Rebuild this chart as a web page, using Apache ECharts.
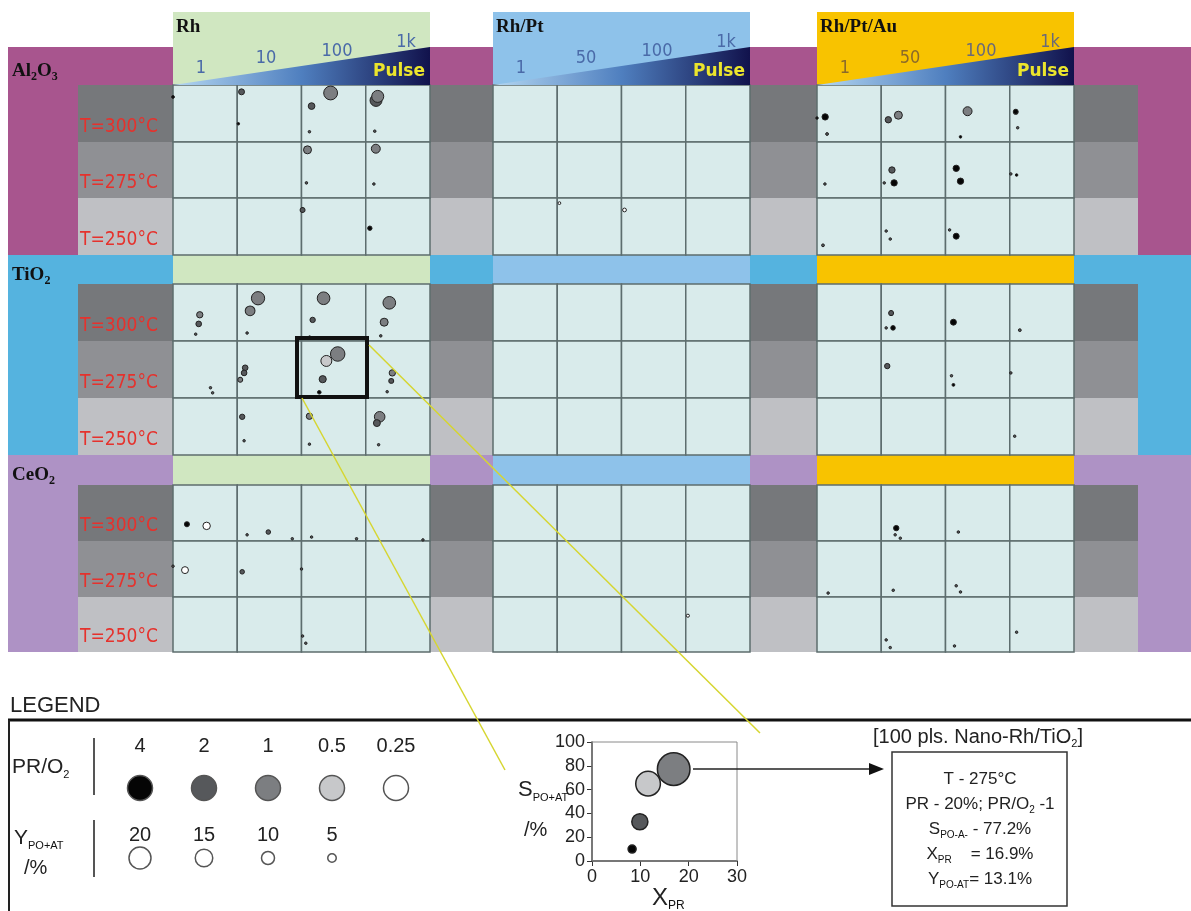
<!DOCTYPE html>
<html>
<head>
<meta charset="utf-8">
<title>Nano-Rh catalyst screening map</title>
<script src="https://cdn.jsdelivr.net/npm/echarts@6/dist/echarts.min.js"></script>
<style>
  html, body { margin: 0; padding: 0; background: #fff; }
  #chart { width: 1191px; height: 911px; }
</style>
</head>
<body>
<div id="chart"></div>
<script>
// row / column labels
const supports = ['Al{s|2}O{s|3}', 'TiO{s|2}', 'CeO{s|2}'];
const temperatures = ['T=300°C', 'T=275°C', 'T=250°C'];
const catalysts = ['Rh', 'Rh/Pt', 'Rh/Pt/Au'];
const pulseTicks = [['1', '10', '100', '1k'], ['1', '50', '100', '1k'], ['1', '50', '100', '1k']];

// bubbles per support: [temp row, catalyst, pulse col, X_PR, S_PO+AT, Y_PO+AT, PR/O2]
const al2o3Points = [
    [0, 0, 0, 0, 79, 0.5, 4],
    [0, 0, 1, 2, 88, 2.2, 2], [0, 0, 1, 0.5, 32, 0.4, 4],
    [0, 0, 2, 13.6, 86, 12, 1], [0, 0, 2, 4.7, 63, 2.8, 2], [0, 0, 2, 3.7, 18, 0.4, 2],
    [0, 0, 3, 4.8, 73, 9, 2], [0, 0, 3, 5.6, 80, 9, 1], [0, 0, 3, 4.2, 19, 0.4, 2],
    [1, 0, 2, 2.8, 86, 4, 1], [1, 0, 2, 2.3, 27, 0.4, 2],
    [1, 0, 3, 4.7, 88, 5, 1], [1, 0, 3, 3.8, 25, 0.4, 2],
    [2, 0, 2, 0.5, 79, 1.5, 2], [2, 0, 3, 1.9, 47, 1.2, 4],
    [2, 1, 1, 1, 91, 0.5, 0.25], [2, 1, 2, 1.4, 79, 0.9, 0.25],
    [0, 2, 0, 3.8, 44, 2.5, 4], [0, 2, 0, 4.7, 14, 0.5, 2], [0, 2, 0, 0, 42, 0.3, 4],
    [0, 2, 1, 3.3, 39, 2.5, 2], [0, 2, 1, 8, 47, 4, 1],
    [0, 2, 2, 10.3, 54, 5, 1], [0, 2, 2, 7, 9, 0.4, 4],
    [0, 2, 3, 2.8, 53, 1.5, 4], [0, 2, 3, 3.7, 25, 0.3, 2],
    [1, 2, 0, 3.7, 25, 0.4, 2],
    [1, 2, 1, 5, 50, 2.5, 2], [1, 2, 1, 6, 27, 2.5, 4], [1, 2, 1, 1.4, 27, 0.3, 2],
    [1, 2, 2, 5, 53, 2.5, 4], [1, 2, 2, 7, 30, 2.5, 4],
    [1, 2, 3, 0.5, 43, 0.3, 2], [1, 2, 3, 3.2, 41, 0.4, 4],
    [2, 2, 0, 2.8, 17, 0.5, 2],
    [2, 2, 1, 2.3, 42, 0.3, 2], [2, 2, 1, 4.2, 28, 0.4, 2],
    [2, 2, 2, 1.9, 44, 0.3, 2], [2, 2, 2, 5, 33, 2.2, 4]
];
const tio2Points = [
    [0, 0, 0, 12.5, 46, 2.5, 1], [0, 0, 0, 12, 30, 2, 2], [0, 0, 0, 10.6, 12, 0.3, 2],
    [0, 0, 1, 9.7, 75, 11, 1], [0, 0, 1, 6, 53, 6, 1], [0, 0, 1, 4.6, 14, 0.4, 2],
    [0, 0, 2, 10.3, 75, 10, 1], [0, 0, 2, 5.2, 37, 1.8, 2], [0, 0, 2, 3.8, 7, 0.3, 2],
    [0, 0, 3, 11, 67, 10, 1], [0, 0, 3, 8.6, 33, 4, 1], [0, 0, 3, 7, 9, 0.4, 2],
    [1, 0, 0, 17.5, 18, 0.3, 2], [1, 0, 0, 18.5, 9, 0.3, 2],
    [1, 0, 1, 3.7, 53, 2, 2], [1, 0, 1, 3.2, 44, 2, 2], [1, 0, 1, 1.4, 32, 1.5, 1],
    [1, 0, 2, 16.9, 77.2, 13.1, 1], [1, 0, 2, 11.6, 65, 7.5, 0.5], [1, 0, 2, 9.9, 33, 3.2, 2], [1, 0, 2, 8.3, 10, 0.8, 4],
    [1, 0, 3, 12.4, 44, 2.5, 1], [1, 0, 3, 11.9, 30, 1.5, 2], [1, 0, 3, 10, 11, 0.3, 2],
    [2, 0, 1, 2.3, 67, 1.8, 2], [2, 0, 1, 3.2, 25, 0.3, 2],
    [2, 0, 2, 3.7, 68, 2.5, 1], [2, 0, 2, 3.7, 19, 0.3, 2],
    [2, 0, 3, 6.5, 67, 7, 1], [2, 0, 3, 5.2, 56, 3, 2], [2, 0, 3, 6, 18, 0.3, 2],
    [0, 2, 1, 4.6, 49, 1.5, 2], [0, 2, 1, 5.5, 23, 1.3, 4], [0, 2, 1, 2.3, 23, 0.3, 2],
    [0, 2, 2, 3.7, 33, 2.2, 4],
    [0, 2, 3, 4.7, 19, 0.5, 2],
    [1, 2, 1, 2.8, 56, 1.8, 2],
    [1, 2, 2, 2.8, 39, 0.3, 2], [1, 2, 2, 3.7, 23, 0.5, 4],
    [1, 2, 3, 0.5, 44, 0.3, 2],
    [2, 2, 3, 2.3, 33, 0.3, 2]
];
const ceo2Points = [
    [0, 0, 0, 6.5, 30, 1.5, 4], [0, 0, 0, 15.7, 27, 3.5, 0.25],
    [0, 0, 1, 4.6, 11, 0.3, 2], [0, 0, 1, 14.5, 16, 1.3, 2], [0, 0, 1, 25.7, 4, 0.3, 2],
    [0, 0, 2, 4.7, 7, 0.3, 2], [0, 0, 2, 25.7, 4, 0.3, 2],
    [0, 0, 3, 26.7, 2, 0.3, 2],
    [1, 0, 0, 5.6, 48, 3, 0.25], [1, 0, 0, 0, 55, 0.3, 2],
    [1, 0, 1, 2.3, 45, 1.3, 2],
    [1, 0, 2, 0, 50, 0.3, 2],
    [2, 0, 2, 0.5, 29, 0.3, 2], [2, 0, 2, 2, 16, 0.3, 2],
    [2, 1, 3, 1, 66, 0.6, 0.25],
    [0, 2, 1, 7, 23, 1.8, 4], [0, 2, 1, 6.5, 11, 0.3, 2], [0, 2, 1, 8.9, 5, 0.3, 2],
    [0, 2, 2, 6, 16, 0.4, 2],
    [1, 2, 0, 5.2, 7, 0.4, 2],
    [1, 2, 1, 5.6, 12, 0.4, 2],
    [1, 2, 2, 5, 20, 0.4, 2], [1, 2, 2, 7, 9, 0.4, 2],
    [2, 2, 1, 2.3, 22, 0.3, 2], [2, 2, 1, 4.2, 8, 0.3, 2],
    [2, 2, 2, 4.2, 11, 0.3, 2],
    [2, 2, 3, 3.2, 36, 0.3, 2]
];

// enlarged cell: 100 pulses, Nano-Rh/TiO2, 275 °C
const insetX = [16.9, 11.6, 9.9, 8.3];
const insetS = [77.2, 65, 33, 10];
const insetY = [13.1, 7.5, 3.2, 0.8];
const insetRatio = [1, 0.5, 2, 4];

// legend entries
const legendRatios = [4, 2, 1, 0.5, 0.25];
const legendYields = [20, 15, 10, 5];

const ratioColor = { 4: '#050505', 2: '#56585b', 1: '#7c7e81', 0.5: '#c7c8ca', 0.25: '#ffffff' };

// layout
const rowEdges = [[85, 142, 198, 255], [284, 341, 398, 455], [485, 541, 597, 652]];
const bandTop = [47, 255, 455];
const bandColor = ['#a8558e', '#55b3df', '#ae92c5'];
const headColor = ['#d0e7c1', '#8ec2ea', '#f8c300'];
const rowGray = ['#76787b', '#8f9094', '#bfc0c4'];
const blockLeft = [173, 493, 817];
const blockWidth = 257;
const sideBoxes = [[78, 173], [430, 493], [750, 817], [1073, 1138]];

const SANS = '"Liberation Sans", Arial, sans-serif';
const SERIF = '"Liberation Serif", "Times New Roman", serif';

function subRich(size, family, weight) {
    return {
        s: { fontSize: size, fontFamily: family, fontWeight: weight || 'normal', verticalAlign: 'bottom', lineHeight: size, fill: '#111' }
    };
}

const graphics = [];
function rect(x, y, w, h, fill, z) {
    graphics.push({ type: 'rect', shape: { x, y, width: w, height: h }, style: { fill }, z: z || 0, silent: true });
}
function text(x, y, str, opts) {
    graphics.push({
        type: 'text', z: opts.z || 6, silent: true,
        style: Object.assign({
            x, y, text: str, textAlign: 'left', textVerticalAlign: 'middle', fill: '#111'
        }, opts.style)
    });
}
function line(x1, y1, x2, y2, stroke, w, z) {
    graphics.push({ type: 'line', shape: { x1, y1, x2, y2 }, style: { stroke, lineWidth: w }, z: z || 6, silent: true });
}

// support bands, headers, grey row boxes
bandTop.forEach((top, s) => {
    const bottom = rowEdges[s][3];
    rect(8, top, 1183, bottom - top, bandColor[s], 0);
    blockLeft.forEach((L, c) => {
        if (s === 0) rect(L, 12, blockWidth, 73, headColor[c], 0);
        else rect(L, top, blockWidth, rowEdges[s][0] - top, headColor[c], 0);
    });
    for (let t = 0; t < 3; t++) {
        sideBoxes.forEach(b => rect(b[0], rowEdges[s][t], b[1] - b[0], rowEdges[s][t + 1] - rowEdges[s][t], rowGray[t], 0));
        text(80, rowEdges[s][t + 1] - 15, temperatures[t], {
            style: { font: '19px "Liberation Sans Narrow", "DejaVu Sans Condensed", sans-serif', fill: '#e5322d' }
        });
    }
    text(12, top + (s === 0 ? 24 : 20), supports[s], {
        style: { font: 'bold 19px ' + SERIF, lineHeight: 24, rich: subRich(12, SERIF, 'bold') }
    });
});

// pulse wedges
const tickDx = [28, 93, 164, 233];
const tickY = [68, 58, 51, 42];
blockLeft.forEach((L, c) => {
    graphics.push({
        type: 'polygon', z: 1, silent: true,
        shape: { points: [[L, 85], [L + blockWidth, 47], [L + blockWidth, 85]] },
        style: {
            fill: new echarts.graphic.LinearGradient(0, 0, 1, 0, [
                { offset: 0, color: '#b4d7f2' },
                { offset: 0.5, color: '#4f7fbf' },
                { offset: 1, color: '#11124c' }
            ])
        }
    });
    pulseTicks[c].forEach((lab, i) => {
        text(L + tickDx[i], tickY[i], lab, {
            style: { font: '18px "DejaVu Sans Condensed", "Liberation Sans", sans-serif', textAlign: 'center', fill: c === 2 && i < 2 ? '#8a6a2a' : (c === 2 ? '#6a6a78' : '#4a6aa8') }
        });
    });
    text(L + 226, 72, 'Pulse', {
        style: { font: 'bold 17px "DejaVu Sans", sans-serif', textAlign: 'center', fill: '#ece52c' }
    });
    text(L + 3, 27, catalysts[c], { style: { font: 'bold 19px ' + SERIF } });
});

// cell grids
const pointSets = [al2o3Points, tio2Points, ceo2Points];
const grids = [], xAxes = [], yAxes = [], series = [];
pointSets.forEach((pts, s) => {
    for (let t = 0; t < 3; t++) {
        for (let c = 0; c < 3; c++) {
            for (let p = 0; p < 4; p++) {
                const idx = grids.length;
                grids.push({
                    left: blockLeft[c] + p * blockWidth / 4, top: rowEdges[s][t],
                    width: blockWidth / 4, height: rowEdges[s][t + 1] - rowEdges[s][t],
                    show: true, backgroundColor: '#d9ebeb', borderColor: '#5d6d6e', borderWidth: 1.5,
                    z: 1, outerBoundsMode: 'none'
                });
                xAxes.push({ gridIndex: idx, type: 'value', min: 0, max: 30, show: false });
                yAxes.push({ gridIndex: idx, type: 'value', min: 0, max: 100, show: false });
                series.push({
                    type: 'scatter', xAxisIndex: idx, yAxisIndex: idx, clip: false, silent: true,
                    data: pts.filter(d => d[0] === t && d[1] === c && d[2] === p).map(d => d.slice(3)),
                    symbolSize: v => Math.max(2.5, 4 * Math.sqrt(v[2])),
                    itemStyle: { color: prm => ratioColor[prm.data[3]], borderColor: '#222', borderWidth: 1, opacity: 1 }
                });
            }
        }
    }
});

// inset chart
const insetIdx = grids.length;
grids.push({ left: 592, top: 742, width: 145, height: 119, show: true, borderColor: '#8a8a8a', borderWidth: 1, backgroundColor: 'transparent', outerBoundsMode: 'none', z: 1 });
xAxes.push({
    gridIndex: insetIdx, type: 'value', min: 0, max: 30, interval: 10,
    axisLine: { lineStyle: { color: '#333', width: 1.5 } },
    axisTick: { show: true, length: 5, lineStyle: { color: '#333' } },
    axisLabel: { fontSize: 18, color: '#222', fontFamily: SANS, margin: 7 },
    splitLine: { show: false }
});
yAxes.push({
    gridIndex: insetIdx, type: 'value', min: 0, max: 100, interval: 20,
    axisLine: { show: true, lineStyle: { color: '#333', width: 1.5 } },
    axisTick: { show: true, length: 5, lineStyle: { color: '#333' } },
    axisLabel: { fontSize: 18, color: '#222', fontFamily: SANS, margin: 7 },
    splitLine: { show: false }
});
series.push({
    type: 'scatter', xAxisIndex: insetIdx, yAxisIndex: insetIdx, clip: false, silent: true,
    data: insetX.map((x, i) => [x, insetS[i], insetY[i], insetRatio[i]]),
    symbolSize: v => 9 * Math.sqrt(v[2]),
    itemStyle: { color: prm => ratioColor[prm.data[3]], borderColor: '#222', borderWidth: 1.5, opacity: 1 }
});

// legend symbols
const legRatioIdx = grids.length;
grids.push({ left: 108, top: 770, width: 320, height: 36, outerBoundsMode: 'none' });
xAxes.push({ gridIndex: legRatioIdx, type: 'category', data: legendRatios.map(String), show: false });
yAxes.push({ gridIndex: legRatioIdx, type: 'value', min: 0, max: 2, show: false });
series.push({
    type: 'scatter', xAxisIndex: legRatioIdx, yAxisIndex: legRatioIdx, silent: true,
    data: legendRatios.map((r, i) => [i, 1, r]),
    symbolSize: 25,
    itemStyle: { color: prm => ratioColor[prm.data[2]], borderColor: '#555', borderWidth: 1.5, opacity: 1 },
    label: { show: true, position: 'inside', offset: [0, -42], formatter: prm => String(prm.data[2]), fontSize: 20, color: '#222', fontFamily: SANS }
});
const legYieldIdx = grids.length;
grids.push({ left: 108, top: 840, width: 320, height: 36, outerBoundsMode: 'none' });
xAxes.push({ gridIndex: legYieldIdx, type: 'category', data: ['a', 'b', 'c', 'd', 'e'], show: false });
yAxes.push({ gridIndex: legYieldIdx, type: 'value', min: 0, max: 2, show: false });
series.push({
    type: 'scatter', xAxisIndex: legYieldIdx, yAxisIndex: legYieldIdx, silent: true,
    data: legendYields.map((y, i) => [i, 1, y]),
    symbolSize: v => 4 + 0.9 * v[2],
    itemStyle: { color: '#fff', borderColor: '#555', borderWidth: 1.5, opacity: 1 },
    label: { show: true, position: 'inside', offset: [0, -23], formatter: prm => String(prm.data[2]), fontSize: 20, color: '#222', fontFamily: SANS }
});

// zoom highlight and guide lines
graphics.push({ type: 'rect', z: 20, silent: true, shape: { x: 297, y: 338, width: 70, height: 59 }, style: { fill: 'none', stroke: '#111', lineWidth: 4 } });
line(302, 398, 505, 770, '#d6d630', 1.5, 20);
line(369, 345, 760, 733, '#d6d630', 1.5, 20);

// legend frame & labels
text(10, 706, 'LEGEND', { style: { font: '22px ' + SANS, fill: '#222' } });
line(8, 720, 1191, 720, '#111', 3, 6);
line(9, 720, 9, 911, '#222', 2, 6);
line(94, 738, 94, 795, '#555', 2, 6);
line(94, 820, 94, 877, '#555', 2, 6);
text(12, 767, 'PR/O{s|2}', { style: { font: '21px ' + SANS, fill: '#222', lineHeight: 26, rich: subRich(11, SANS) } });
text(14, 838, 'Y{s|PO+AT}', { style: { font: '21px ' + SANS, fill: '#222', lineHeight: 26, rich: subRich(11, SANS) } });
text(24, 868, '/%', { style: { font: '20px ' + SANS, fill: '#222' } });

// inset axis names
text(518, 790, 'S{s|PO+AT}', { style: { font: '22px ' + SANS, fill: '#222', lineHeight: 26, rich: subRich(11, SANS) } });
text(524, 830, '/%', { style: { font: '20px ' + SANS, fill: '#222' } });
text(652, 898, 'X{s|PR}', { style: { font: '24px ' + SANS, fill: '#222', lineHeight: 28, rich: subRich(12, SANS) } });

// arrow and annotation box
line(693, 769, 872, 769, '#222', 1.5, 6);
graphics.push({ type: 'polygon', z: 6, silent: true, shape: { points: [[884, 769], [869, 763], [869, 775]] }, style: { fill: '#111' } });
graphics.push({ type: 'rect', z: 5, silent: true, shape: { x: 892, y: 752, width: 175, height: 154 }, style: { fill: '#fff', stroke: '#333', lineWidth: 1.5 } });
text(978, 737, '[100 pls. Nano-Rh/TiO{s|2}]', { style: { font: '20px ' + SANS, fill: '#222', textAlign: 'center', lineHeight: 24, rich: subRich(11, SANS) } });
const boxLines = ['T - 275°C', 'PR - 20%; PR/O{s|2} -1', 'S{s|PO-A-} - 77.2%', 'X{s|PR}    = 16.9%', 'Y{s|PO-AT}= 13.1%'];
boxLines.forEach((str, i) => {
    text(980, 779 + i * 25, str, { z: 7, style: { font: '17px ' + SANS, fill: '#222', textAlign: 'center', lineHeight: 22, rich: subRich(10, SANS) } });
});

const chart = echarts.init(document.getElementById('chart'));
chart.setOption({
    animation: false,
    backgroundColor: '#fff',
    grid: grids,
    xAxis: xAxes,
    yAxis: yAxes,
    series: series,
    graphic: { elements: graphics }
});
</script>
</body>
</html>
